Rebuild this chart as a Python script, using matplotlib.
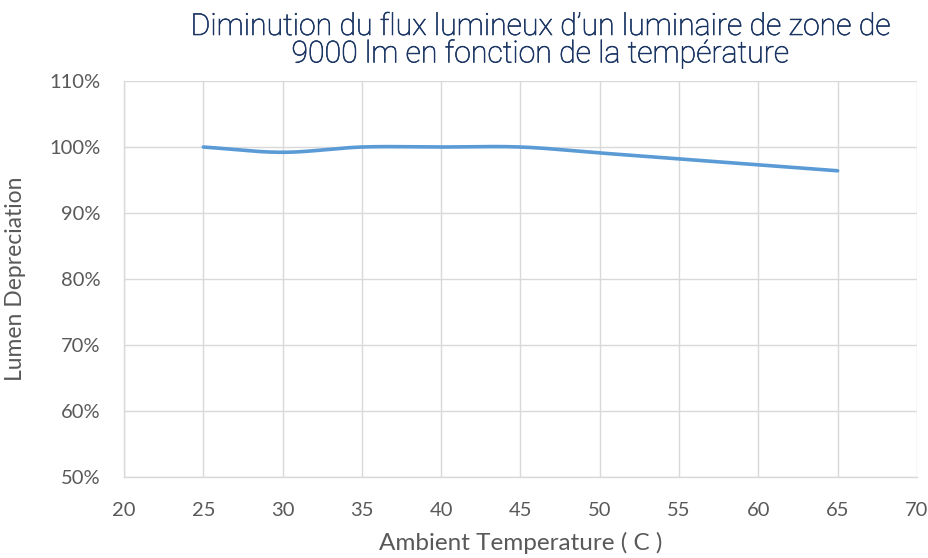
import numpy as np
import matplotlib
matplotlib.use("Agg")
import matplotlib.pyplot as plt
import matplotlib.patheffects as pe
from matplotlib.ticker import FuncFormatter, MultipleLocator

temperatures = [25, 30, 35, 40, 45, 50, 55, 60, 65]
lumen_pct = [100.0, 99.2, 100.0, 100.0, 100.0, 99.1, 98.2, 97.3, 96.4]

title_line1 = "Diminution du flux lumineux d\u2019un luminaire de zone de"
title_line2 = "9000 lm en fonction de la température"
x_label = "Ambient Temperature ( C )"
y_label = "Lumen Depreciation"


def smooth_curve(xs, ys, steps=40):
    """Catmull-Rom style smoothed line through the data points."""
    xs = np.asarray(xs, float)
    ys = np.asarray(ys, float)
    px = np.concatenate([[2 * xs[0] - xs[1]], xs, [2 * xs[-1] - xs[-2]]])
    py = np.concatenate([[2 * ys[0] - ys[1]], ys, [2 * ys[-1] - ys[-2]]])
    out_x, out_y = [], []
    t = np.linspace(0, 1, steps, endpoint=False)
    for i in range(1, len(px) - 2):
        p0, p1, p2, p3 = (np.array([px[j], py[j]]) for j in (i - 1, i, i + 1, i + 2))
        c1 = p1 + (p2 - p0) / 6
        c2 = p2 - (p3 - p1) / 6
        b = ((1 - t) ** 3)[:, None] * p1 + (3 * (1 - t) ** 2 * t)[:, None] * c1 \
            + (3 * (1 - t) * t ** 2)[:, None] * c2 + (t ** 3)[:, None] * p2
        out_x.extend(b[:, 0])
        out_y.extend(b[:, 1])
    out_x.append(xs[-1])
    out_y.append(ys[-1])
    return np.array(out_x), np.array(out_y)


fig = plt.figure(figsize=(9.29, 5.58), dpi=100)
ax = fig.add_axes([0.1335, 0.1452, 0.8535, 0.7096])

sx, sy = smooth_curve(temperatures, lumen_pct)
ax.plot(sx, sy, color="#5b9bd5", linewidth=2.6, solid_capstyle="round", zorder=3)

ax.set_xlim(20, 70)
ax.set_ylim(50, 110)
ax.xaxis.set_major_locator(MultipleLocator(5))
ax.yaxis.set_major_locator(MultipleLocator(10))
ax.yaxis.set_major_formatter(FuncFormatter(lambda v, _: f"{v:.0f}%"))
ax.grid(True, color="#d9d9d9", linewidth=1.0)
ax.set_axisbelow(True)
for name, sp in ax.spines.items():
    if name in ("top", "right"):
        sp.set_visible(False)
    else:
        sp.set_color("#d9d9d9")
        sp.set_linewidth(1.0)
ax.tick_params(length=0, colors="#595959", labelsize=14.5)
ax.tick_params(axis="y", pad=17)
ax.tick_params(axis="x", pad=18)
for lab in ax.get_xticklabels() + ax.get_yticklabels():
    lab.set_family("Lato")

ax.set_xlabel(x_label, family="Lato", fontsize=17.5, color="#595959")
ax.set_ylabel(y_label, family="Lato", fontsize=16.5, color="#595959")
ax.xaxis.set_label_coords(0.5, -0.167)
ax.yaxis.set_label_coords(-0.137, 0.5)
ax.xaxis.label.set_va("center")
ax.yaxis.label.set_va("center")

title_color = "#1a3563"
title_style = dict(ha="center", va="center", fontsize=21.8,
                   family="Roboto", fontweight="light", color=title_color,
                   path_effects=[pe.withStroke(linewidth=0.45, foreground=title_color)])
fig.text(540 / 929, 1 - 27 / 558, title_line1, **title_style)
fig.text(540 / 929, 1 - 54 / 558, title_line2, **title_style)

fig.savefig("out.png", dpi=100)
